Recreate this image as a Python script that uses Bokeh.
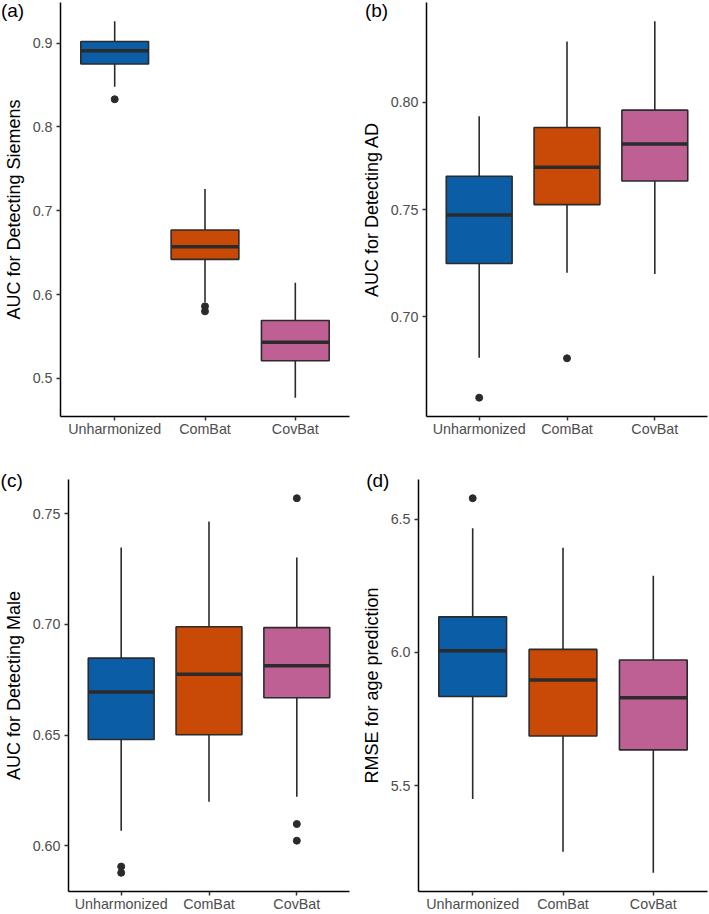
from bokeh.plotting import figure
from bokeh.layouts import column, row
from bokeh.models import Range1d, FixedTicker, ColumnDataSource, PrintfTickFormatter
from bokeh.core.properties import value
from bokeh.embed import file_html
from bokeh.resources import INLINE

groups = ["Unharmonized", "ComBat", "CovBat"]
colors = ["#0B5DA5", "#C84A06", "#BE6093"]
tags = ["(a)", "(b)", "(c)", "(d)"]

# (a) AUC for Detecting Siemens
a_lower = [0.848, 0.591, 0.477]
a_q1 = [0.875, 0.642, 0.521]
a_med = [0.891, 0.657, 0.543]
a_q3 = [0.902, 0.677, 0.569]
a_upper = [0.926, 0.726, 0.614]
a_out_group = ["Unharmonized", "ComBat", "ComBat"]
a_out_value = [0.833, 0.586, 0.580]
a_ticks = [0.5, 0.6, 0.7, 0.8, 0.9]

# (b) AUC for Detecting AD
b_lower = [0.6807, 0.7204, 0.7199]
b_q1 = [0.7248, 0.7523, 0.7633]
b_med = [0.7474, 0.7697, 0.7806]
b_q3 = [0.7655, 0.7883, 0.7964]
b_upper = [0.7936, 0.8285, 0.8379]
b_out_group = ["Unharmonized", "ComBat"]
b_out_value = [0.6621, 0.6805]
b_ticks = [0.70, 0.75, 0.80]

# (c) AUC for Detecting Male
c_lower = [0.6068, 0.6199, 0.6221]
c_q1 = [0.6480, 0.6501, 0.6668]
c_med = [0.6694, 0.6774, 0.6813]
c_q3 = [0.6847, 0.6989, 0.6985]
c_upper = [0.7346, 0.7464, 0.7301]
c_out_group = ["Unharmonized", "Unharmonized", "CovBat", "CovBat", "CovBat"]
c_out_value = [0.5906, 0.5878, 0.7569, 0.6098, 0.6023]
c_ticks = [0.60, 0.65, 0.70, 0.75]

# (d) RMSE for age prediction
d_lower = [5.450, 5.252, 5.173]
d_q1 = [5.834, 5.686, 5.634]
d_med = [6.006, 5.896, 5.830]
d_q3 = [6.133, 6.011, 5.971]
d_upper = [6.465, 6.392, 6.287]
d_out_group = ["Unharmonized"]
d_out_value = [6.578]
d_ticks = [5.5, 6.0, 6.5]

TICK_FONT = "14.3px"
TITLE_FONT = "18px"
TAG_FONT = "19px"
FONT = "Liberation Sans"
INK = "#2b2b2b"


def panel(tag, ylabel, lower, q1, med, q3, upper, out_g, out_v, ticks, fmt,
          width, height, bl, br, bt, bb, tag_dx, tag_dy):
    xs = [i + 1 for i in range(len(groups))]
    allv = lower + upper + out_v
    lo, hi = min(allv), max(allv)
    pad = (hi - lo) * 0.05
    x0 = 0.4
    p = figure(width=width, height=height, output_backend="svg", toolbar_location=None,
               x_range=Range1d(x0, len(groups) + 0.6), y_range=Range1d(lo - pad, hi + pad),
               min_border_left=bl, min_border_right=br, min_border_top=bt, min_border_bottom=bb)
    p.outline_line_color = None
    p.grid.visible = False
    p.background_fill_color = "white"
    p.border_fill_color = "white"

    src = ColumnDataSource(dict(x=xs, lower=lower, q1=q1, med=med, q3=q3, upper=upper,
                                color=colors,
                                x0=[x - 0.375 for x in xs], x1=[x + 0.375 for x in xs]))
    p.segment(x0="x", y0="q3", x1="x", y1="upper", source=src, line_color=INK, line_width=1.6)
    p.segment(x0="x", y0="q1", x1="x", y1="lower", source=src, line_color=INK, line_width=1.6)
    p.vbar(x="x", width=0.75, bottom="q1", top="q3", source=src, fill_color="color",
           line_color=INK, line_width=1.6)
    p.segment(x0="x0", y0="med", x1="x1", y1="med", source=src, line_color=INK, line_width=3.5)
    ox = [groups.index(g) + 1 for g in out_g]
    p.scatter(x=ox, y=out_v, size=7, fill_color=INK, line_color=INK)

    xa = p.xaxis[0]
    xa.ticker = FixedTicker(ticks=xs)
    xa.major_label_overrides = {x: g for x, g in zip(xs, groups)}
    xa.major_label_standoff = 0
    ya = p.yaxis[0]
    ya.ticker = FixedTicker(ticks=ticks)
    ya.formatter = PrintfTickFormatter(format=fmt)
    ya.major_label_standoff = 4
    ya.axis_label = ylabel
    ya.axis_label_standoff = 6
    ya.axis_label_text_font = FONT
    ya.axis_label_text_font_size = TITLE_FONT
    ya.axis_label_text_font_style = "normal"
    ya.axis_label_text_color = "black"
    for ax in (xa, ya):
        ax.axis_line_color = "black"
        ax.axis_line_width = 1.5
        ax.major_tick_line_color = "#333333"
        ax.major_tick_line_width = 1.5
        ax.major_tick_out = 4
        ax.major_tick_in = 0
        ax.minor_tick_line_color = None
        ax.major_label_text_font = FONT
        ax.major_label_text_font_size = TICK_FONT
        ax.major_label_text_color = "#4D4D4D"

    # panel tag, drawn from the frame's top-left corner on the overlay level
    p.text(x=[x0], y=[hi + pad], text=[tag], x_offset=tag_dx, y_offset=tag_dy,
           text_font=value(FONT), text_font_size=value(TAG_FONT), text_color="black",
           text_baseline="middle", text_align="left", level="overlay")
    return p


pa = panel(tags[0], "AUC for Detecting Siemens", a_lower, a_q1, a_med, a_q3, a_upper,
           a_out_group, a_out_value, a_ticks, "%.1f", 354, 440, 60, 5, 2, 24, -59.6, 8)
pb = panel(tags[1], "AUC for Detecting AD", b_lower, b_q1, b_med, b_q3, b_upper,
           b_out_group, b_out_value, b_ticks, "%.2f", 355, 440, 72, 2, 2, 24, -61.6, 8)
pc = panel(tags[2], "AUC for Detecting Male", c_lower, c_q1, c_med, c_q3, c_upper,
           c_out_group, c_out_value, c_ticks, "%.2f", 354, 474, 68, 5, 39, 21, -67.9, 1)
pd_ = panel(tags[3], "RMSE for age prediction", d_lower, d_q1, d_med, d_q3, d_upper,
            d_out_group, d_out_value, d_ticks, "%.1f", 355, 474, 64, 2, 39, 21, -52.3, 1)

layout = column(row(pa, pb), row(pc, pd_))
open("out.html", "w").write(file_html(layout, INLINE))
